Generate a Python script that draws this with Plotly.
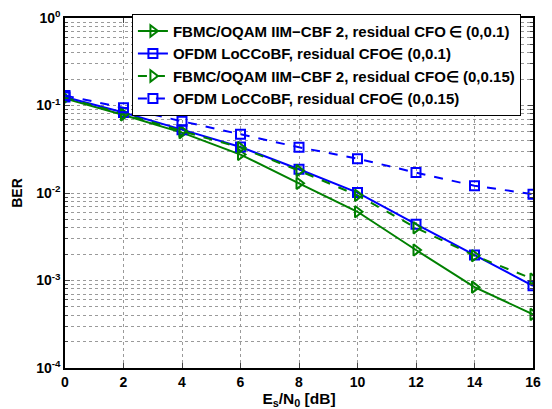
import plotly.graph_objects as go

snr = [0, 2, 4, 6, 8, 10, 12, 14, 16]
fbmc_01 = [0.120, 0.078, 0.049, 0.0275, 0.0129, 0.0061, 0.00223, 0.00084, 0.00041]
ofdm_01 = [0.125, 0.083, 0.053, 0.0335, 0.0187, 0.0101, 0.0044, 0.00196, 0.00087]
fbmc_015 = [0.122, 0.080, 0.051, 0.033, 0.018, 0.0094, 0.0040, 0.00192, 0.00104]
ofdm_015 = [0.130, 0.094, 0.066, 0.047, 0.0333, 0.0247, 0.0171, 0.0121, 0.0097]

names = [
    "FBMC/OQAM IIM\u2212CBF 2, residual CFO\u2009\u2208 (0,0.1)",
    "OFDM LoCCoBF, residual CFO\u2208 (0,0.1)",
    "FBMC/OQAM IIM\u2212CBF 2, residual CFO\u2208 (0,0.15)",
    "OFDM LoCCoBF, residual CFO\u2208 (0,0.15)",
]
major_exps = [-4, -3, -2, -1, 0]

green = "#008000"
blue = "#0000ff"

fig = go.Figure()
series = [
    (fbmc_01, names[0], green, "solid", "triangle-right-open", 10),
    (ofdm_01, names[1], blue, "solid", "square-open", 9),
    (fbmc_015, names[2], green, "dash", "triangle-right-open", 10),
    (ofdm_015, names[3], blue, "dash", "square-open", 9),
]
for ys, nm, col, dash, sym, ms in series:
    fig.add_trace(go.Scatter(
        x=snr, y=ys, name=nm, mode="lines+markers",
        line=dict(color=col, width=2, dash=dash),
        marker=dict(symbol=sym, size=ms, color=col, line=dict(width=2, color=col)),
    ))

major_vals = [10.0 ** e for e in major_exps]
major_text = ["10<sup>%d</sup>" % e for e in major_exps]
minor_vals = [m * 10.0 ** e for e in major_exps[:-1] for m in range(2, 10)]

grid = dict(showgrid=True, gridcolor="#9a9a9a", griddash="dot", gridwidth=1)

fig.update_layout(
    width=552, height=409,
    margin=dict(l=65, r=19, t=18, b=41, autoexpand=False),
    paper_bgcolor="white", plot_bgcolor="white",
    font=dict(family="Liberation Sans, Arial, sans-serif", color="black"),
    showlegend=True,
    legend=dict(
        x=0.143, y=1.012, xanchor="left", yanchor="top",
        bgcolor="white", bordercolor="black", borderwidth=1,
        font=dict(size=15, weight="bold"),
        itemwidth=30, tracegroupgap=0,
    ),
    xaxis=dict(
        range=[0, 16], tickvals=snr, ticks="inside", ticklen=5,
        showline=True, mirror="ticks", linecolor="black", linewidth=1.5,
        tickfont=dict(size=14, weight="bold"), zeroline=False,
        title=dict(text="E<sub>s</sub>/N<sub>0</sub> [dB]", font=dict(size=15.5, weight="bold"), standoff=0),
        **grid,
    ),
    yaxis=dict(
        type="log", range=[-4, 0], tickvals=major_vals, ticktext=major_text,
        ticks="inside", ticklen=5,
        minor=dict(tickvals=minor_vals, ticks="inside", ticklen=3, **grid),
        showline=True, mirror="ticks", linecolor="black", linewidth=1.5,
        tickfont=dict(size=14, weight="bold"), zeroline=False,
        title=dict(text="BER", font=dict(size=14, weight="bold"), standoff=10),
        **grid,
    ),
)

fig.write_html("out.html", config={"displayModeBar": False},
               post_script="document.body.style.margin='0px';")
